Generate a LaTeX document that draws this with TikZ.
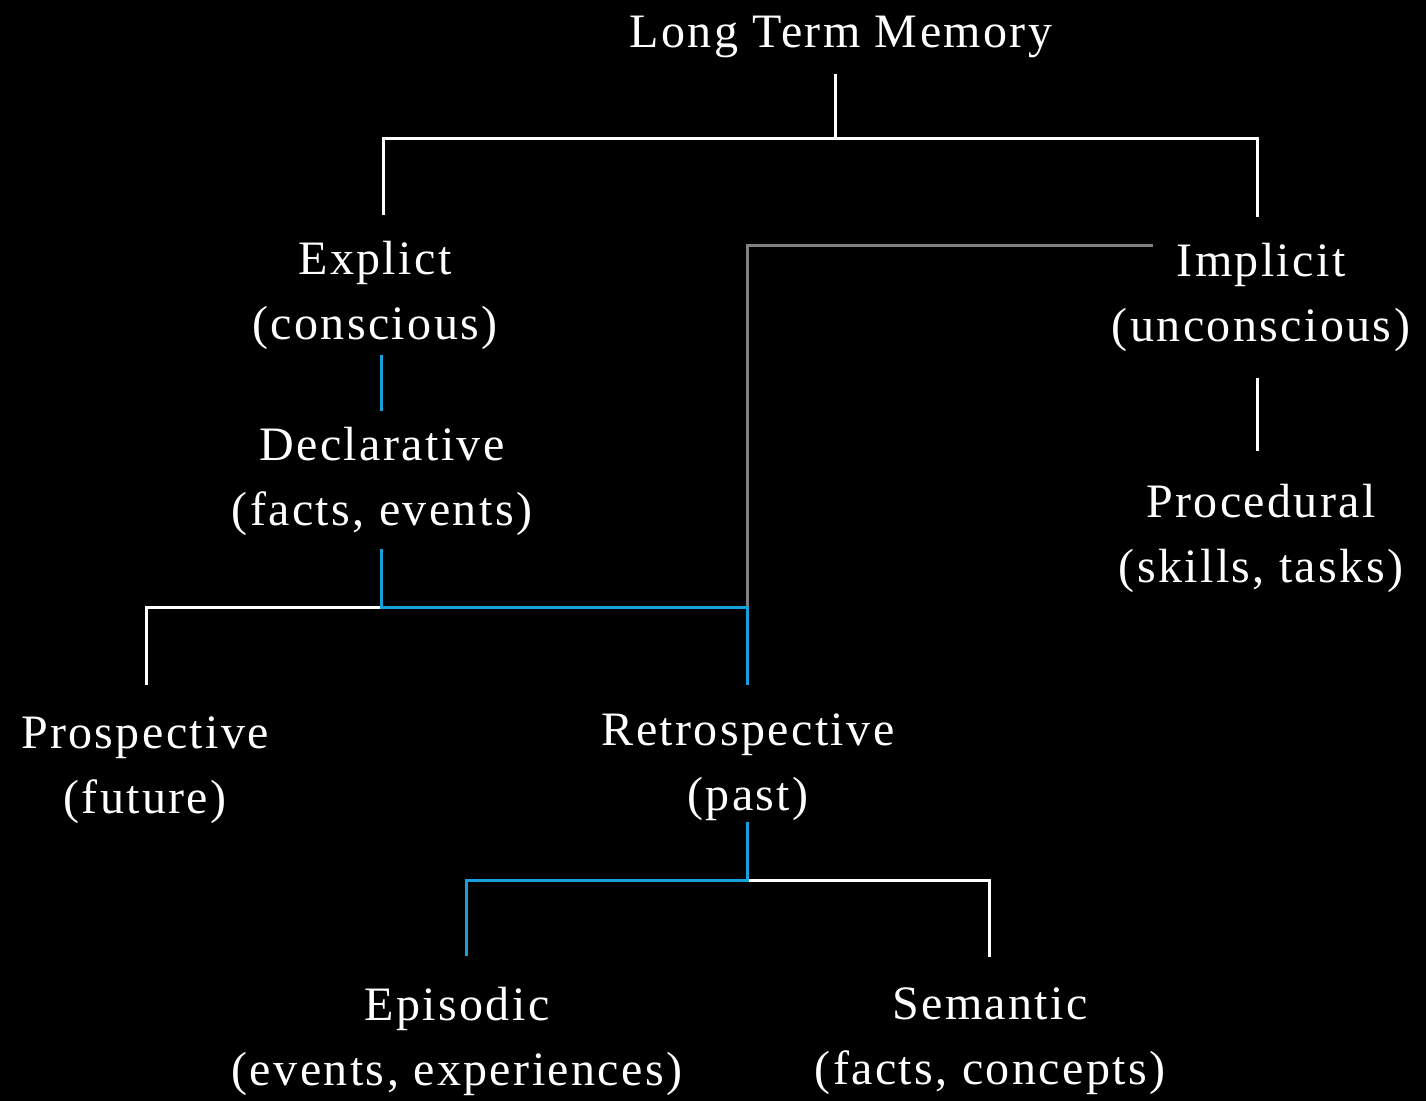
\documentclass[tikz,border=0pt]{standalone}
\usepackage{fontspec}
\setmainfont{Liberation Serif}[LetterSpace=5]
\usetikzlibrary{calc}
\definecolor{linkblue}{RGB}{24,160,220}
\definecolor{linkgray}{RGB}{128,128,128}

\begin{document}
\begin{tikzpicture}[
    x=0.5pt, y=-0.5pt,
    every node/.style={text=white, inner sep=0pt, align=center, font=\fontsize{24}{32.5}\selectfont},
    wire/.style={draw=white, line width=1.5pt},
    hot/.style={draw=linkblue, line width=1.5pt},
    faint/.style={draw=linkgray, line width=1.5pt}
  ]
  \fill[black] (0,0) rectangle (1426,1101);

  % Terms
  \node (ltm) at (841,36.5) {Long Term Memory};
  \node (expl) at (375,295) {Explict\\(conscious)};
  \node (impl) at (1261,297) {Implicit\\(unconscious)};
  \node (decl) at (382,481) {Declarative\\(facts, events)};
  \node (proc) at (1261,538) {Procedural\\(skills, tasks)};
  \node (prosp) at (145,770) {Prospective\\(future)};
  \node (retro) at (748,767) {Retrospective\\(past)};
  \node (epis) at (457,1041) {Episodic\\(events, experiences)};
  \node (sem) at (990,1041) {Semantic\\(facts, concepts)};

  % Fork points
  \coordinate (topfork) at (835,139);
  \coordinate (declfork) at (381,608);
  \coordinate (retrofork) at (747,880);

  % Long term memory split
  \draw[wire] ($(ltm.south)+(-6,16)$) -- (topfork);
  \draw[wire] ($(expl.north)+(8,-25)$) |- (topfork) -| ($(impl.north)+(-4,-25)$);
  \draw[wire] ($(impl.south)+(-4,26)$) -- ($(proc.north)+(-4,-32)$);

  % Declarative split
  \draw[wire] (declfork) -| ($(prosp.north)+(1,-31)$);
  \draw[faint] ($(impl.north west)+(41,3)$) -| ($(retro.north)+(-1,-28)$ |- declfork);
  \draw[hot] ($(expl.south)+(6,5)$) -- ($(decl.north)+(-1,-15)$);
  \draw[hot] ($(decl.south)+(-1,13)$) -- (declfork) -| ($(retro.north)+(-1,-28)$);

  % Retrospective split
  \draw[wire] (retrofork) -| ($(sem.north)+(-1,-30)$);
  \draw[hot] ($(retro.south)+(-1,1)$) -- (retrofork) -| ($(epis.north)+(9,-30)$);
\end{tikzpicture}
\end{document}
